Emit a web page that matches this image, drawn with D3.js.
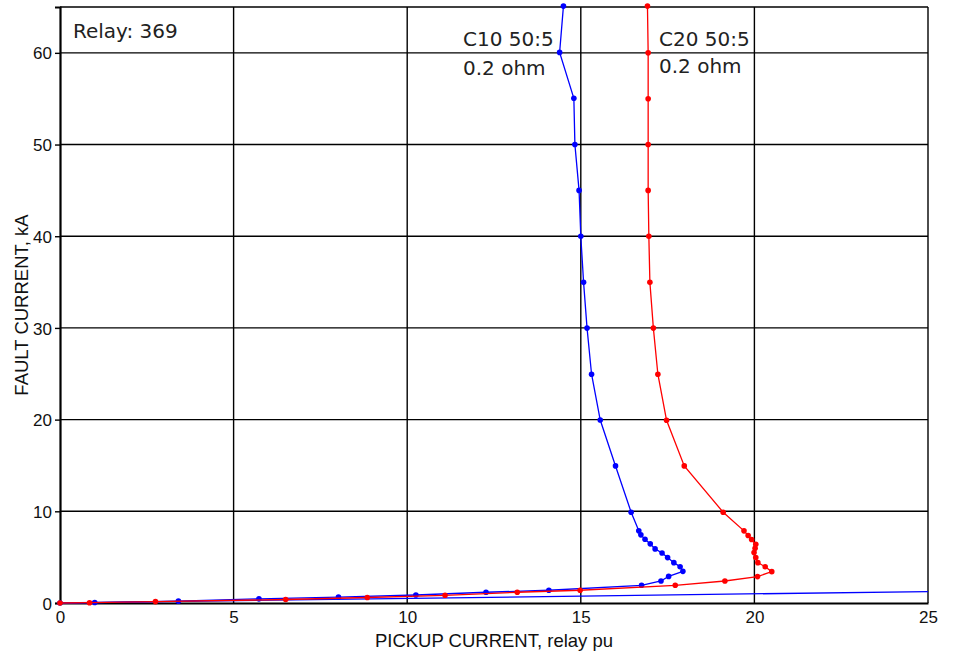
<!DOCTYPE html>
<html>
<head>
<meta charset="utf-8">
<script src="https://cdn.jsdelivr.net/npm/d3@7"></script>
<style>
  html, body { margin: 0; padding: 0; background: #fff; }
  svg { display: block; }
</style>
</head>
<body>
<svg id="chart" width="955" height="655"></svg>
<script>
// C10 50:5 CT, 0.2 ohm burden: pickup current (relay pu) vs fault current (kA)
const c10Pickup = [0, 1.0, 3.41, 5.73, 8.02, 10.25, 12.27, 14.08, 16.75, 17.31, 17.53, 17.94, 17.86, 17.68, 17.5, 17.34, 17.14, 17.0, 16.85, 16.73, 16.67, 16.45, 16.0, 15.56, 15.31, 15.18, 15.08, 15.0, 14.95, 14.83, 14.8, 14.39, 14.5];
const c10Fault  = [0, 0.05, 0.2, 0.45, 0.65, 0.87, 1.17, 1.39, 1.93, 2.4, 2.9, 3.45, 3.95, 4.4, 4.95, 5.46, 5.9, 6.45, 6.96, 7.43, 7.87, 9.9, 14.95, 19.95, 24.95, 29.98, 34.97, 40, 45, 50, 55.05, 60.05, 65.1];

// C20 50:5 CT, 0.2 ohm burden
const c20Pickup = [0, 0.85, 2.75, 6.5, 8.85, 11.09, 13.17, 14.98, 17.72, 19.15, 20.09, 20.5, 20.31, 20.1, 20.04, 19.99, 20.02, 20.04, 19.92, 19.82, 19.7, 19.1, 17.98, 17.47, 17.22, 17.09, 16.99, 16.96, 16.94, 16.94, 16.94, 16.94, 16.92];
const c20Fault  = [0, 0.03, 0.15, 0.38, 0.6, 0.84, 1.17, 1.39, 1.93, 2.4, 2.88, 3.42, 3.95, 4.4, 4.95, 5.5, 5.97, 6.41, 6.92, 7.36, 7.87, 9.9, 14.95, 19.93, 24.95, 29.98, 34.97, 40, 45, 50, 55, 60, 65.1];

// Straight reference line (no markers)
const refPickup = [0, 25];
const refFault  = [0, 1.25];

const xTicks = [0, 5, 10, 15, 20, 25];
const yTicks = [0, 10, 20, 30, 40, 50, 60];

const svg = d3.select("#chart");
const margin = { left: 60, right: 27, top: 7, bottom: 52 };
const W = 955, H = 655;

const x = d3.scaleLinear().domain([0, 25]).range([margin.left, W - margin.right]);
const y = d3.scaleLinear().domain([0, 65]).range([H - margin.bottom, margin.top]);

// grid
const grid = svg.append("g");
grid.selectAll("line.vx").data(xTicks.slice(1, -1)).join("line")
  .attr("x1", d => x(d)).attr("x2", d => x(d))
  .attr("y1", y(0)).attr("y2", y(65))
  .attr("stroke", "#000").attr("stroke-width", 1.4);
grid.selectAll("line.hy").data(yTicks.slice(1)).join("line")
  .attr("y1", d => y(d)).attr("y2", d => y(d))
  .attr("x1", x(0)).attr("x2", x(25))
  .attr("stroke", "#000").attr("stroke-width", 1.4);

// frame
svg.append("line").attr("x1", x(0)).attr("x2", x(25)).attr("y1", y(65)).attr("y2", y(65))
  .attr("stroke", "#000").attr("stroke-width", 1.6);
svg.append("line").attr("x1", x(25)).attr("x2", x(25)).attr("y1", y(0)).attr("y2", y(65))
  .attr("stroke", "#000").attr("stroke-width", 1.4);

// axes
const axisFont = "Liberation Sans, Arial, sans-serif";
const xAxis = svg.append("g").attr("transform", `translate(0,${y(0)})`)
  .call(d3.axisBottom(x).tickValues(xTicks).tickSize(0).tickPadding(8));
const yAxis = svg.append("g").attr("transform", `translate(${x(0)},0)`)
  .call(d3.axisLeft(y).tickValues(yTicks).tickSize(5).tickPadding(3));
[xAxis, yAxis].forEach(a => {
  a.select(".domain").attr("stroke", "#000").attr("stroke-width", 2.2);
  a.selectAll("text").attr("font-family", axisFont)
    .attr("font-size", 17).attr("fill", "#111");
  a.selectAll(".tick line").attr("stroke", "#000").attr("stroke-width", 1.4);
});
yAxis.selectAll(".tick text").attr("dy", "0.36em");

// axis titles
svg.append("text").attr("x", 494).attr("y", 647).attr("text-anchor", "middle")
  .attr("font-family", axisFont).attr("font-size", 18.5).attr("fill", "#111")
  .text("PICKUP CURRENT, relay pu");
svg.append("text").attr("transform", `translate(28,${(y(0) + y(65)) / 2}) rotate(-90)`)
  .attr("text-anchor", "middle")
  .attr("font-family", axisFont).attr("font-size", 18.5).attr("fill", "#111")
  .text("FAULT CURRENT, kA");

// series
const line = d3.line().x(d => x(d[0])).y(d => y(d[1]));
const plotG = svg.append("g");

function drawSeries(px, fy, color, markers) {
  const pts = px.map((v, i) => [v, fy[i]]);
  plotG.append("path").datum(pts).attr("d", line)
    .attr("fill", "none").attr("stroke", color).attr("stroke-width", 1.3);
  if (markers) {
    plotG.append("g").selectAll("circle").data(pts).join("circle")
      .attr("cx", d => x(d[0])).attr("cy", d => y(d[1])).attr("r", 2.8)
      .attr("fill", color);
  }
}
drawSeries(refPickup, refFault, "#0000ff", false);
drawSeries(c10Pickup, c10Fault, "#0000ff", true);
drawSeries(c20Pickup, c20Fault, "#ff0000", true);

// annotations
const noteFont = "DejaVu Sans, sans-serif";
function note(tx, ty, txt) {
  svg.append("text").attr("x", tx).attr("y", ty)
    .attr("font-family", noteFont).attr("font-size", 20).attr("fill", "#222").text(txt);
}
note(73, 38, "Relay: 369");
note(463, 46, "C10 50:5");
note(463, 75, "0.2 ohm");
note(659, 46, "C20 50:5");
note(659, 73, "0.2 ohm");
</script>
</body>
</html>
